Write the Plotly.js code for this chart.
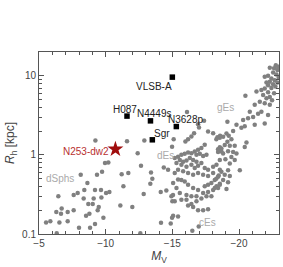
<!DOCTYPE html>
<html><head><meta charset="utf-8">
<script src="https://cdn.plot.ly/plotly-3.0.1.min.js"></script>
<style>html,body{margin:0;padding:0;background:#fff}</style>
</head><body><div id="chart" style="width:283px;height:267px"></div>
<script>
// Gray galaxy sample: absolute magnitude M_V and half-light radius R_h [kpc]
const galMv = [
-9.23,-11.6,-12.9,-12.4,-10.2,-9.95,-12.65,-9.73,-8.13,-9.35,
-11.2,-11.7,-13.4,-13.5,-13.35,-8.63,-11.33,-6.45,-7.6,-7.9,
-8.4,-9.2,-9.65,-10.28,-10.03,-8.35,-9.1,-9.68,-12.85,-6.7,
-6.3,-6.65,-7.15,-7.6,-8.7,-9.03,-9.48,-9.4,-8.78,-8.53,
-9.83,-11.1,-12.0,-5.53,-5.85,-6.53,-7.15,-9.2,-8.0,-8.83,
-6.33,-12.6,-14.15,-14.36,-14.13,-14.98,-15.0,-15.05,-14.98,-16.5,
-16.1,-17.38,-19.13,-16.93,-17.0,-17.68,-18.06,-16.63,-18.38,-18.58,
-16.43,-16.18,-15.98,-15.1,-18.56,-18.68,-18.43,-17.43,-17.18,-16.93,
-16.68,-16.43,-16.18,-15.93,-15.68,-15.43,-15.18,-16.81,-17.06,-17.31,
-17.56,-15.56,-15.81,-16.06,-16.31,-16.56,-16.81,-15.31,-15.68,-16.06,
-16.43,-16.68,-16.93,-17.18,-17.43,-17.68,-18.06,-18.31,-18.56,-15.43,
-15.81,-16.18,-16.56,-16.93,-17.31,-17.68,-18.06,-18.43,-15.18,-14.68,
-18.18,-17.93,-17.68,-17.43,-18.31,-18.56,-18.06,-17.68,-17.31,-16.93,
-16.56,-16.18,-15.93,-15.68,-15.43,-15.06,-15.31,-15.56,-16.06,-16.43,
-16.81,-17.18,-17.56,-17.93,-16.06,-16.43,-16.81,-15.68,-15.18,-14.93,
-14.55,-16.56,-16.93,-17.31,-17.68,-16.18,-15.06,-15.43,-14.88,-16.98,
-22.76,-22.93,-22.63,-22.31,-22.88,-22.56,-22.81,-22.18,-21.93,-22.98,
-22.43,-22.68,-22.31,-22.88,-22.06,-22.56,-22.18,-22.73,-22.43,-21.93,
-21.68,-21.31,-20.48,-22.18,-22.63,-21.81,-22.31,-22.06,-22.48,-21.56,
-21.93,-21.18,-22.31,-20.81,-21.68,-21.43,-22.18,-21.06,-20.68,-20.31,
-21.93,-21.18,-20.43,-20.18,-19.81,-19.56,-19.06,-18.81,-19.23,-19.43,
-18.56,-18.3,-19.13,-18.93,-19.31,-19.68,-18.68,-19.18,-19.56,-18.43,
-18.81,-19.81,-19.43,-18.98,-18.56,-19.68,-19.31,-20.56,-20.43,-20.06,
-19.18,-18.68,-18.48,-18.93,-19.31,-18.3,-18.81,-18.56,-19.18,-18.18,
-18.43,-19.06
];
const galRh = [
1.52,1.49,1.52,1.05,0.80,0.79,0.73,0.61,0.56,0.56,
0.57,0.59,0.60,0.50,0.43,0.44,0.40,0.30,0.31,0.33,
0.36,0.36,0.36,0.34,0.33,0.28,0.28,0.29,0.32,0.21,
0.19,0.18,0.19,0.20,0.24,0.24,0.22,0.20,0.18,0.17,
0.16,0.23,0.22,0.14,0.145,0.14,0.145,0.134,0.12,0.12,
0.102,0.102,0.139,0.69,0.34,1.27,0.26,0.31,0.16,0.11,
3.47,2.70,2.63,2.44,2.22,1.98,1.88,1.88,1.67,1.74,
1.71,1.58,1.48,1.58,1.25,1.10,1.18,1.34,1.22,1.16,
1.10,1.05,1.07,1.03,1.00,0.95,0.91,1.00,1.03,0.97,
1.00,0.86,0.82,0.85,0.91,0.86,0.82,0.79,0.75,0.71,
0.75,0.68,0.73,0.79,0.68,0.65,0.71,0.75,0.65,0.65,
0.62,0.59,0.56,0.59,0.56,0.54,0.59,0.53,0.59,0.65,
0.48,0.44,0.42,0.40,0.40,0.42,0.36,0.34,0.33,0.36,
0.38,0.42,0.46,0.48,0.49,0.44,0.38,0.33,0.31,0.30,
0.30,0.28,0.30,0.30,0.27,0.24,0.26,0.27,0.26,0.30,
0.354,0.22,0.20,0.20,0.205,0.23,0.17,0.166,0.136,0.124,
13.6,13.0,12.4,12.6,11.8,11.0,10.4,10.0,9.7,9.4,
9.2,8.8,8.4,8.2,8.2,7.8,7.6,7.3,7.0,6.9,
6.6,6.3,5.6,6.2,6.0,5.7,5.4,5.2,4.9,4.7,
4.5,4.3,4.3,3.5,3.5,3.3,3.2,3.0,2.9,2.75,
2.5,2.4,2.3,2.2,2.4,2.0,1.86,1.69,1.74,1.58,
1.64,1.58,1.46,1.33,1.30,1.30,1.20,1.11,1.09,1.09,
1.04,1.04,0.94,0.88,0.86,0.86,0.78,1.43,1.26,0.64,
0.64,0.61,0.55,0.56,0.54,0.50,0.48,0.43,0.45,0.38,
0.38,0.37
];

// Highlighted objects (black squares)
const namedNames = ['VLSB-A','H087','N4449s','N3628p','Sgr'];
const namedMv = [-15.0,-11.6,-13.36,-15.3,-13.5];
const namedRh = [9.6,3.09,2.69,2.28,1.55];

// NGC 253-dw2 (red star)
const dw2Name = 'N253-dw2';
const dw2Mv = [-10.73];
const dw2Rh = [1.18];

// Class labels
const classNames = ['gEs','dEs','dSphs','cEs'];
const classMv = [-19.0,-14.48,-6.55,-17.67];
const classRh = [4.0,0.98,0.50,0.139];

// Styling: pixel offsets of name labels relative to their markers
const nameShift = [[-18,-9],[-2,7],[3.5,7.7],[9,6.7],[10,6.7]];
const dw2Shift = [-29,-2.4];

const FONT = 'Liberation Sans, Arial, sans-serif';

const traces = [
  {x: galMv, y: galRh, type:'scatter', mode:'markers',
   marker:{color:'#808080', size:4.5, line:{width:0}}, hoverinfo:'skip'},
  {x: namedMv, y: namedRh, type:'scatter', mode:'markers',
   marker:{color:'#000', symbol:'square', size:5.5, line:{width:0}}},
  {x: dw2Mv, y: dw2Rh, type:'scatter', mode:'markers',
   marker:{color:'#a00d0d', symbol:'star', size:12, line:{width:0}}}
];

const annotations = [];
namedNames.forEach((t,i)=>{
  annotations.push({x:namedMv[i], y:Math.log10(namedRh[i]), xref:'x', yref:'y',
    text:t, showarrow:false, xshift:nameShift[i][0], yshift:nameShift[i][1],
    font:{family:FONT, size:10, color:'#222'}});
});
annotations.push({x:dw2Mv[0], y:Math.log10(dw2Rh[0]), xref:'x', yref:'y',
  text:dw2Name, showarrow:false, xshift:dw2Shift[0], yshift:dw2Shift[1],
  font:{family:FONT, size:10, color:'#b83030'}});
classNames.forEach((t,i)=>{
  annotations.push({x:classMv[i], y:Math.log10(classRh[i]), xref:'x', yref:'y',
    text:t, showarrow:false, font:{family:FONT, size:10, color:'#aaaaaa'}});
});

const minorY = [0.2,0.3,0.4,0.5,0.6,0.7,0.8,0.9,2,3,4,5,6,7,8,9];

const layout = {
  width:283, height:267,
  margin:{l:39, r:4, t:52, b:33},
  paper_bgcolor:'#fff', plot_bgcolor:'#fff',
  showlegend:false,
  font:{family:FONT, size:10, color:'#444'},
  xaxis:{range:[-5,-23], tickmode:'linear', tick0:-5, dtick:5,
    ticks:'inside', ticklen:5, tickcolor:'#555', tickwidth:1,
    minor:{dtick:1, tick0:0, ticks:'inside', ticklen:3, tickcolor:'#555'},
    showline:true, linecolor:'#555', linewidth:1, mirror:'ticks',
    showgrid:false, zeroline:false,
    tickfont:{family:FONT, size:10, color:'#444'},
    title:{text:'<i>M</i><sub>V</sub>', font:{family:FONT, size:12, color:'#444'}, standoff:0}},
  yaxis:{type:'log', range:[-1,1.3], dtick:1,
    ticks:'inside', ticklen:5, tickcolor:'#555', tickwidth:1,
    minor:{tickmode:'array', tickvals:minorY, ticks:'inside', ticklen:3, tickcolor:'#555'},
    showline:true, linecolor:'#555', linewidth:1, mirror:'ticks',
    showgrid:false, zeroline:false,
    tickfont:{family:FONT, size:10, color:'#444'},
    title:{text:'<i>R</i><sub>h</sub> [kpc]', font:{family:FONT, size:12, color:'#444'}, standoff:4}},
  annotations: annotations
};

Plotly.newPlot('chart', traces, layout, {displayModeBar:false, staticPlot:true});
</script>
</body></html>
